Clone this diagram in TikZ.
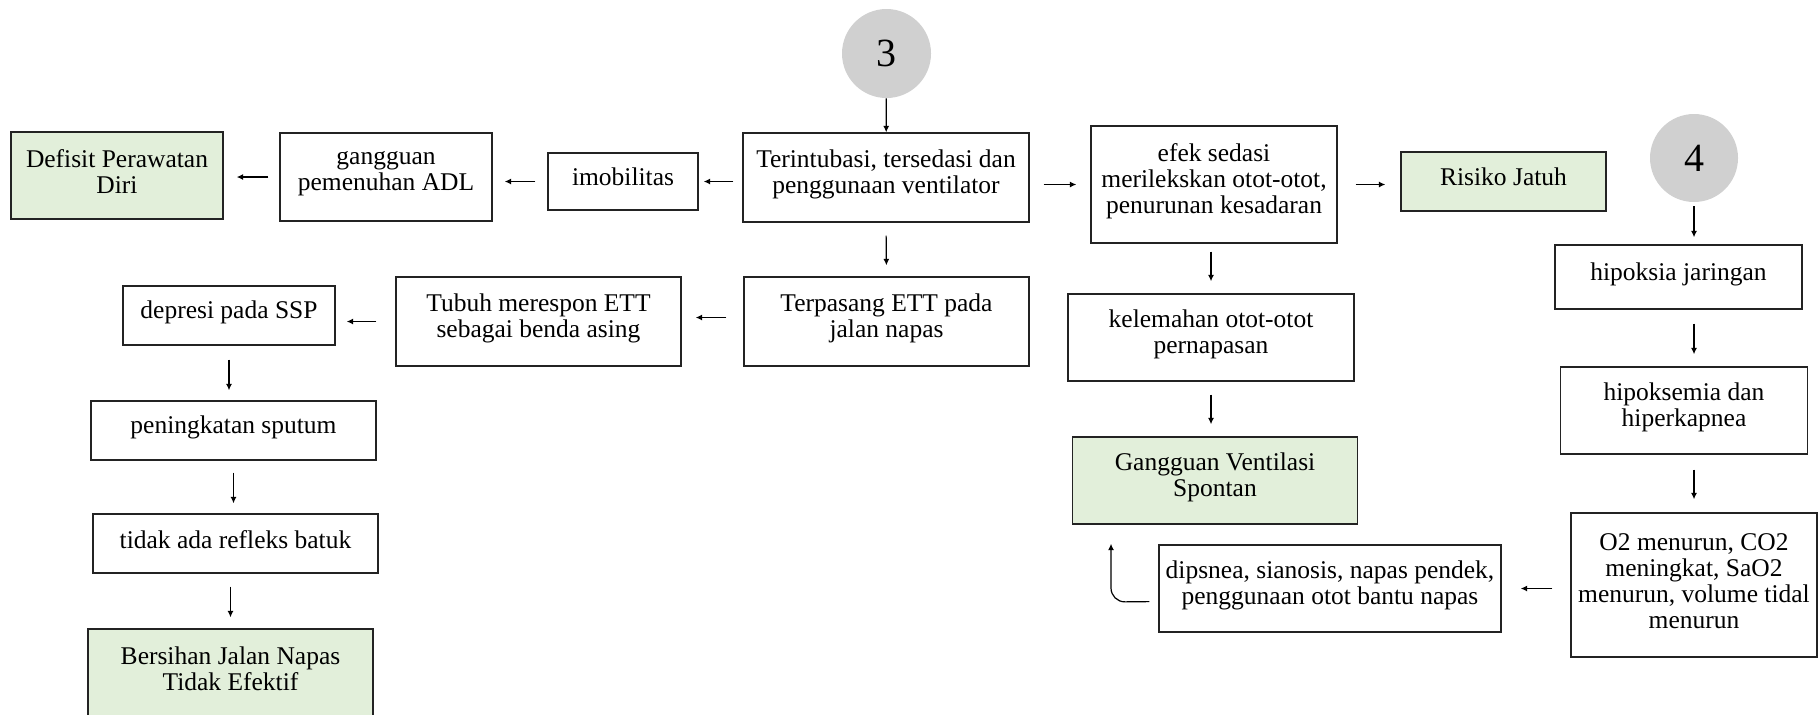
\documentclass[tikz,border=0pt]{standalone}
\usepackage{fontspec}
\setmainfont{Liberation Serif}
\usetikzlibrary{arrows.meta}
\definecolor{leaf}{RGB}{226,239,218}
\definecolor{disc}{RGB}{208,208,208}
\definecolor{edge}{RGB}{35,35,35}
\begin{document}
\begin{tikzpicture}[x=0.5pt, y=-0.5pt,
  box/.style={draw=edge, line width=0.7pt, align=center, inner sep=2pt,
    text depth=5.8pt, font=\fontsize{12.75}{13}\selectfont},
  flat/.style={text depth=4.4pt},
  diag/.style={box, fill=leaf},
  disc/.style={circle, fill=disc, draw=none, inner sep=0pt,
    font=\fontsize{20}{24}\selectfont},
  arr/.style={-{Latex[length=3.2pt, width=3pt]}, line width=0.6pt, black}]
\useasboundingbox (0,0) rectangle (1819,714);
\clip (0,0) rectangle (1819,714);

% entry points
\node[disc, minimum size=44.5pt] (c3) at (886.5,53.5) {3};
\node[disc, minimum size=44pt] (c4) at (1694,158) {4};

% top row
\node[diag, flat, minimum width=106pt, minimum height=43.5pt] (defisit) at (117,175.5) {Defisit Perawatan\\Diri};
\node[box, minimum width=106pt, minimum height=44pt] (adl) at (386,177) {gangguan\\pemenuhan ADL};
\node[box, flat, minimum width=75pt, minimum height=28.5pt] (imob) at (623,181.5) {imobilitas};
\node[box, minimum width=143pt, minimum height=44.5pt] (intub) at (886,177.5) {Terintubasi, tersedasi dan\\penggunaan ventilator};
\node[box, minimum width=123pt, minimum height=58.5pt] (sedasi) at (1214,184.5) {efek sedasi\\merilekskan otot-otot,\\penurunan kesadaran};
\node[diag, flat, minimum width=102.5pt, minimum height=29.5pt] (jatuh) at (1503.5,181.5) {Risiko Jatuh};

% left branch
\node[box, minimum width=106pt, minimum height=29.5pt] (ssp) at (229,315.5) {depresi pada SSP};
\node[box, minimum width=142.5pt, minimum height=44.5pt] (tubuh) at (538.5,321.5) {Tubuh merespon ETT\\sebagai benda asing};
\node[box, minimum width=142.5pt, minimum height=44.5pt] (ett) at (886.5,321.5) {Terpasang ETT pada\\jalan napas};
\node[box, minimum width=142.5pt, minimum height=29.5pt] (sputum) at (233.5,430.5) {peningkatan sputum};
\node[box, flat, minimum width=142.5pt, minimum height=29.5pt] (batuk) at (235.5,543.5) {tidak ada refleks batuk};
\node[diag, flat, minimum width=142.5pt, minimum height=44.5pt] (bersihan) at (230.5,673.5) {Bersihan Jalan Napas\\Tidak Efektif};

% middle branch
\node[box, minimum width=143pt, minimum height=43.5pt] (lemah) at (1211,337.5) {kelemahan otot-otot\\pernapasan};
\node[diag, minimum width=142.5pt, minimum height=43.5pt] (ventilasi) at (1215,480.5) {Gangguan Ventilasi\\Spontan};
\node[box, minimum width=171pt, minimum height=43.5pt] (dipsnea) at (1330,588.5) {dipsnea, sianosis, napas pendek,\\penggunaan otot bantu napas};

% right branch
\node[box, minimum width=123.5pt, minimum height=32pt] (hipoksia) at (1678.5,277) {hipoksia jaringan};
\node[box, minimum width=123.5pt, minimum height=43.5pt] (hipoksemia) at (1684,410.5) {hipoksemia dan\\hiperkapnea};
\node[box, flat, minimum width=123pt, minimum height=72pt] (gas) at (1694,585) {O2 menurun, CO2\\meningkat, SaO2\\menurun, volume tidal\\menurun};

\coordinate (bend) at (1111,602);

% connectors
\draw[arr] (c3) -- (intub);
\draw[arr, shorten <=4.5pt, shorten >=2.5pt] (intub.west |- imob.east) -- (imob.east);
\draw[arr, shorten <=6pt, shorten >=6pt] (imob.west) -- (adl.east |- imob.west);
\draw[arr, shorten <=5.5pt, shorten >=6.5pt] (adl.west) -- (defisit.east |- adl.west);
\draw[arr, shorten <=7pt, shorten >=7pt] (intub.east |- sedasi.west) -- (sedasi.west);
\draw[arr, shorten <=9pt, shorten >=7.5pt] (sedasi.east) -- (jatuh.west |- sedasi.east);
\draw[arr, shorten <=6.5pt, shorten >=5.5pt] (intub.south) -- (ett.north);
\draw[arr, shorten <=8.5pt, shorten >=7pt] ([yshift=2pt]ett.west) -- ([yshift=2pt]tubuh.east);
\draw[arr, shorten <=9.5pt, shorten >=5.5pt] (tubuh.west) -- (ssp.east |- tubuh.west);
\draw[arr, shorten <=7pt, shorten >=5pt] (ssp.south) -- (sputum.north -| ssp.south);
\draw[arr, shorten <=6pt, shorten >=5pt] (sputum.south) -- (batuk.north -| sputum.south);
\draw[arr, shorten <=6.5pt, shorten >=5.5pt] (batuk.south -| bersihan.north) -- (bersihan.north);
\draw[arr, shorten <=4pt, shorten >=6pt] (sedasi.south -| lemah.north) -- (lemah.north);
\draw[arr, shorten <=6.5pt, shorten >=6pt] (lemah.south) -- (ventilasi.north -| lemah.south);
\draw[arr, shorten <=2pt, shorten >=3.5pt] (c4.south) -- (hipoksia.north -| c4.south);
\draw[arr, shorten <=7pt, shorten >=6pt] (hipoksia.south -| c4) -- (hipoksemia.north -| c4);
\draw[arr, shorten <=7.5pt, shorten >=6.5pt] (hipoksemia.south -| gas.north) -- (gas.north);
\draw[arr, shorten <=9pt, shorten >=9.5pt] (gas.west |- dipsnea.east) -- (dipsnea.east);
\draw[arr, rounded corners=7pt, shorten <=4.5pt, shorten >=9.5pt]
  ([yshift=-6.5pt]dipsnea.west) -- (bend) -- (bend |- ventilasi.south);
\end{tikzpicture}
\end{document}
